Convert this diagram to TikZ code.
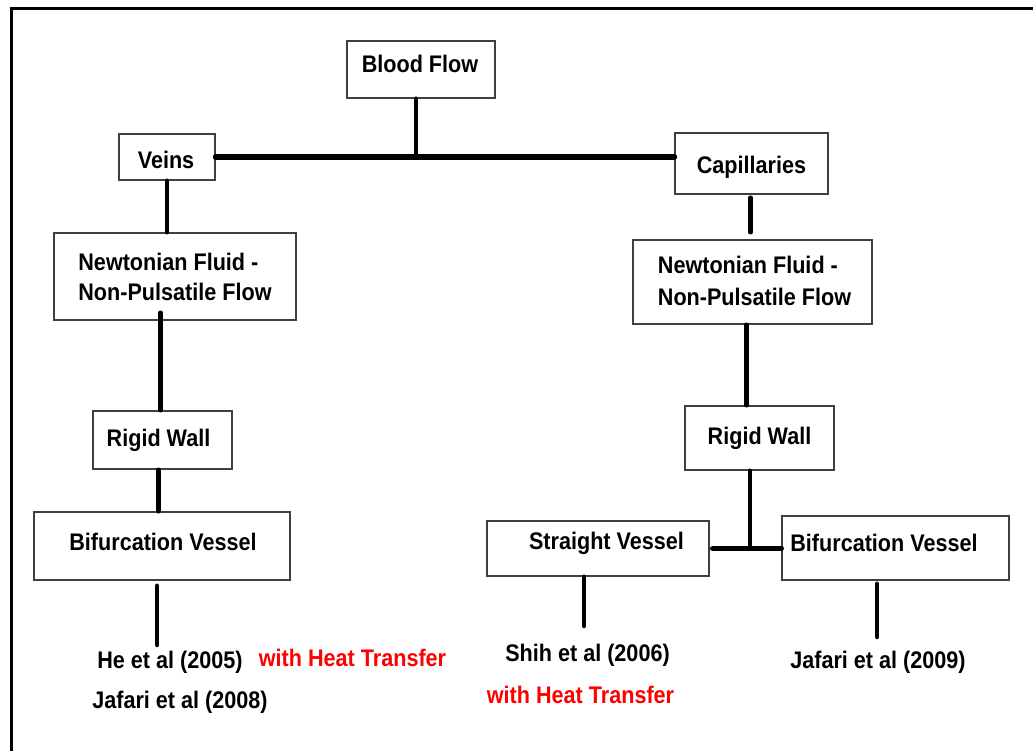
\documentclass[tikz,border=0pt]{standalone}
\usepackage{fontspec}
\newfontfamily\dfont[FakeStretch=0.9]{Liberation Sans}
\definecolor{boxline}{HTML}{404040}
\definecolor{refred}{HTML}{FF0000}
% shift the ink of a text without changing its box: #1 right, #2 up
\newcommand\shf[3]{\raisebox{#2}[\height][\depth]{\kern#1\relax #3\kern-#1\relax}}
\begin{document}
\begin{tikzpicture}[x=1pt,y=-1pt,
  box/.style={draw=boxline,line width=1.5pt,fill=white,inner sep=0pt,
    font=\dfont\fontsize{24}{30}\selectfont\bfseries,align=center},
  txt/.style={inner sep=0pt,font=\dfont\fontsize{24}{30}\selectfont\bfseries},
  redtxt/.style={txt,text=refred},
  conn/.style={line width=4.5pt,line cap=round}]
\useasboundingbox (0,0) rectangle (1033,751);
\fill[white] (0,0) rectangle (1033,751);
\draw[line width=3pt] (11,751) -- (11,9) -- (1033,9);

\node[box,minimum width=148pt,minimum height=57pt] (bf) at (421,69.5) {\shf{-1pt}{5.5pt}{Blood Flow}};
\node[box,minimum width=96pt,minimum height=46pt] (veins) at (167,157) {\shf{-1pt}{-3pt}{Veins}};
\node[box,minimum width=153pt,minimum height=61pt] (cap) at (751.5,163.5) {\shf{0pt}{-3.5pt}{Capillaries}};
\node[box,minimum width=242pt,minimum height=87pt] (lnewt) at (175,276.5) {\shf{0pt}{-3pt}{\begin{tabular}{@{}l@{}}Newtonian Fluid -\\Non-Pulsatile Flow\end{tabular}}};
\node[box,minimum width=239pt,minimum height=84pt] (rnewt) at (752.5,282) {\shf{2pt}{-2pt}{\begin{tabular}{@{}l@{}}Newtonian Fluid -\\[2pt]Non-Pulsatile Flow\end{tabular}}};
\node[box,minimum width=139pt,minimum height=58pt] (lrigid) at (162.5,440) {\shf{-4pt}{0pt}{Rigid Wall}};
\node[box,minimum width=149pt,minimum height=64pt] (rrigid) at (759.5,438) {Rigid Wall};
\node[box,minimum width=256pt,minimum height=68pt] (lbif) at (162,546) {\shf{1pt}{4pt}{Bifurcation Vessel}};
\node[box,minimum width=222pt,minimum height=55pt] (straight) at (598,548.5) {\shf{8.5pt}{5.5pt}{Straight Vessel}};
\node[box,minimum width=227pt,minimum height=64pt] (rbif) at (895.5,548) {\shf{-11.5pt}{5pt}{Bifurcation Vessel}};

\node[txt] (he) at (170,662) {He et al (2005)};
\node[redtxt] (ht1) at (352.5,658) {with Heat Transfer};
\node[txt] (jaf08) at (180,702) {Jafari et al (2008)};
\node[txt] (shih) at (587.5,655) {Shih et al (2006)};
\node[redtxt] (ht2) at (580.5,695) {with Heat Transfer};
\node[txt] (jaf09) at (878,662) {Jafari et al (2009)};

\coordinate (lend) at (157,645);
\coordinate (rj) at (750,547);
\coordinate (send) at (584,626);
\coordinate (rend) at (877,637);

\draw[conn,line width=6pt] (veins.east) -- (veins.east -| cap.west);
\draw[conn] ([xshift=-5pt]bf.south) -- ([xshift=-5pt]bf.south |- veins.east);
\draw[conn] (veins.south) -- (veins.south |- lnewt.north);
\draw[conn] ([xshift=-2pt]lrigid.north) -- ([xshift=-2pt,yshift=8pt]lrigid.north |- lnewt.south);
\draw[conn] ([xshift=-4pt]lrigid.south) -- ([xshift=-4pt]lrigid.south |- lbif.north);
\draw[conn] ([yshift=-5pt]lend |- lbif.south) -- (lend);
\draw[conn] ([xshift=-1pt,yshift=-3pt]cap.south) -- ([xshift=-1pt,yshift=7pt]cap.south |- rnewt.north);
\draw[conn] ([xshift=-6pt]rnewt.south) -- ([xshift=-6pt]rnewt.south |- rrigid.north);
\draw[conn] (rj |- rrigid.south) -- (rj);
\draw[conn,line width=5.5pt] ([xshift=3pt]straight.east) -- (straight.east -| rbif.west);
\draw[conn] (send |- straight.south) -- (send);
\draw[conn] ([yshift=-3pt]rend |- rbif.south) -- (rend);
\end{tikzpicture}
\end{document}
